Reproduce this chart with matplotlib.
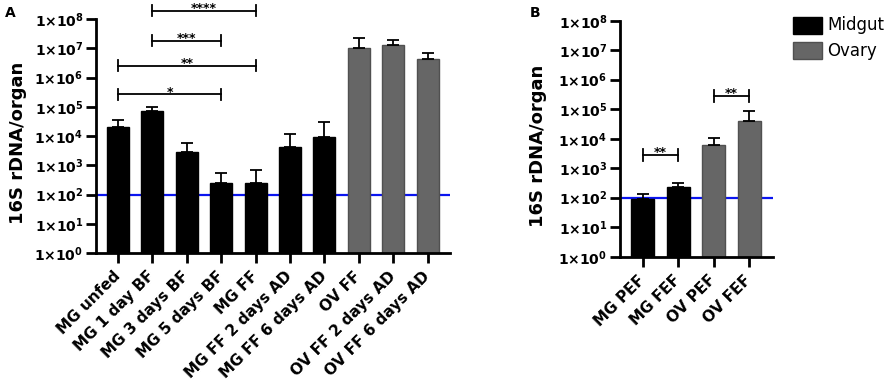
import numpy as np
import matplotlib
matplotlib.use("Agg")
import matplotlib.pyplot as plt
from matplotlib.patches import Rectangle

plt.rcParams['font.family'] = ['DejaVu Sans']

# panel A data
a_labels = ["MG unfed", "MG 1 day BF", "MG 3 days BF", "MG 5 days BF", "MG FF",
            "MG FF 2 days AD", "MG FF 6 days AD", "OV FF", "OV FF 2 days AD", "OV FF 6 days AD"]
a_mean = [2.0e4, 7.3e4, 2.9e3, 250, 240, 4.2e3, 9.5e3, 1.05e7, 1.3e7, 4.2e6]
a_upper = [3.5e4, 9.8e4, 5.9e3, 550, 700, 1.2e4, 3.0e4, 2.3e7, 1.95e7, 6.7e6]
a_group = ["Midgut"] * 7 + ["Ovary"] * 3
a_sig_pairs = [(0, 3), (0, 4), (1, 3), (1, 4)]
a_sig_height = [2.7e5, 2.5e6, 1.8e7, 1.9e8]
a_sig_text = ["*", "**", "***", "****"]

# panel B data
b_labels = ["MG PEF", "MG FEF", "OV PEF", "OV FEF"]
b_mean = [89, 235, 6.1e3, 4.1e4]
b_upper = [130, 316, 1.05e4, 8.5e4]
b_group = ["Midgut", "Midgut", "Ovary", "Ovary"]
b_sig_pairs = [(0, 1), (2, 3)]
b_sig_height = [2.8e3, 2.8e5]
b_sig_text = ["**", "**"]

detection_limit = 100
ylabel = "16S rDNA/organ"
legend_names = ["Midgut", "Ovary"]

colors = {"Midgut": "black", "Ovary": "#666666"}
edges = {"Midgut": "black", "Ovary": "#505050"}


def draw_panel(ax, labels, mean, upper, group, pairs, heights, stars, xlim):
	x = np.arange(len(labels))
	ax.axhline(detection_limit, color="#0a14f0", lw=1.6, zorder=1)
	ax.bar(x, mean, width=0.64, color=[colors[g] for g in group],
	       edgecolor=[edges[g] for g in group], linewidth=1, zorder=2)
	yerr = [np.zeros(len(mean)), np.array(upper) - np.array(mean)]
	ax.errorbar(x, mean, yerr=yerr, fmt="none", ecolor="black", elinewidth=1.3,
	            capsize=4.5, capthick=1.3, zorder=3)

	# significance brackets
	for (i, j), h, s in zip(pairs, heights, stars):
		ax.plot([i, j], [h, h], color="black", lw=1.3, clip_on=False, zorder=4)
		for k in (i, j):
			ax.plot([k, k], [h / 1.55, h * 1.55], color="black", lw=1.3, clip_on=False, zorder=4)
		ax.text((i + j) / 2, h / 1.12, s, ha="center", va="baseline", fontsize=9,
		        fontweight="bold", clip_on=False)

	ax.set_yscale("log")
	ax.set_ylim(1, 1e8)
	ax.set_xlim(*xlim)
	ax.set_yticks([10.0 ** i for i in range(9)])
	ax.set_yticklabels(["1×10$^{\\mathbf{%d}}$" % i for i in range(9)], fontweight="bold", fontsize=10)
	ax.minorticks_off()
	ax.set_xticks(x)
	ax.set_xticklabels(labels, rotation=45, ha="right", va="center", rotation_mode="anchor",
	                   fontsize=11, fontweight="bold")
	for side in ("top", "right"):
		ax.spines[side].set_visible(False)
	for side in ("left", "bottom"):
		ax.spines[side].set_linewidth(2)
	ax.tick_params(width=2, length=7, pad=2)
	ax.tick_params(axis="x", pad=8)
	ax.set_ylabel(ylabel, fontsize=13, fontweight="bold")


fig = plt.figure(figsize=(8.93, 3.82), dpi=100)
ax_a = fig.add_axes([96 / 893, 1 - 253 / 382, 354 / 893, 234 / 382])
ax_b = fig.add_axes([620 / 893, 1 - 256.7 / 382, 153 / 893, 236 / 382])

draw_panel(ax_a, a_labels, a_mean, a_upper, a_group, a_sig_pairs, a_sig_height, a_sig_text, (-0.64, 9.65))
draw_panel(ax_b, b_labels, b_mean, b_upper, b_group, b_sig_pairs, b_sig_height, b_sig_text, (-0.64, 3.67))
ax_a.yaxis.set_label_coords(-0.195, 0.47)
ax_b.yaxis.set_label_coords(-0.477, 0.47)

fig.text(5 / 893, 1 - 13 / 382, "A", fontsize=10, fontweight="bold", ha="left", va="center")
fig.text(530 / 893, 1 - 13 / 382, "B", fontsize=10, fontweight="bold", ha="left", va="center")

# legend drawn by hand so the swatches sit where the reference has them
for row, name in enumerate(legend_names):
	top = 17 + 25 * row
	fig.add_artist(Rectangle((793 / 893, 1 - (top + 17) / 382), 29 / 893, 17 / 382,
	                         transform=fig.transFigure, facecolor=colors[name],
	                         edgecolor=edges[name], linewidth=1))
	fig.text(827 / 893, 1 - (top + 8.5) / 382, name, fontsize=12, ha="left", va="center")

fig.savefig("out.png", dpi=100)
